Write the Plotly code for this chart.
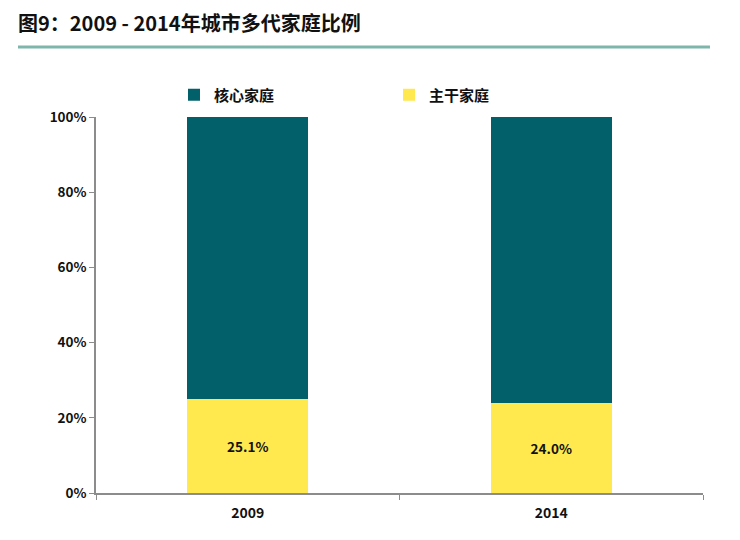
import plotly.graph_objects as go

YEARS = ["2009", "2014"]
NUCLEAR = [74.9, 76.0]   # 核心家庭
STEM = [25.1, 24.0]      # 主干家庭
Y_TICKS = [0, 20, 40, 60, 80, 100]

TEAL = "#02606B"
YELLOW = "#FFE94F"
FONT = "Noto Sans CJK SC"

fig = go.Figure()

fig.add_trace(
    go.Bar(
        x=YEARS,
        y=STEM,
        name="<b>主干家庭</b>",
        marker=dict(color=YELLOW, line=dict(width=0)),
        text=[f"<b>{v:.1f}%</b>" for v in STEM],
        textposition="inside",
        insidetextanchor="middle",
        textfont=dict(family=FONT, size=13.5, color="#111111"),
    )
)
fig.add_trace(
    go.Bar(
        x=YEARS,
        y=NUCLEAR,
        name="<b>核心家庭</b>",
        marker=dict(color=TEAL, line=dict(width=0)),
        hoverinfo="y+name",
    )
)

# Title underline
fig.add_shape(
    type="line", xref="paper", yref="paper",
    x0=-0.1285, x1=1.0115, y0=1.186, y1=1.186,
    line=dict(color="#7FB6AC", width=3),
)

# the page body has an 8px margin, so everything is laid out 8px up/left
fig.update_layout(
    barmode="stack",
    bargap=0.6,
    width=740,
    height=540,
    paper_bgcolor="white",
    plot_bgcolor="white",
    margin=dict(l=88, r=45, t=109, b=55),
    font=dict(family=FONT, size=12, color="#111111"),
    title=dict(
        text="<b>图9：2009 - 2014年城市多代家庭比例</b>",
        xref="container", x=0.0135, xanchor="left",
        yref="container", y=0.970, yanchor="middle",
        font=dict(family=FONT, size=20, color="#111111"),
    ),
    showlegend=True,
    legend=dict(
        orientation="h",
        traceorder="reversed",
        x=0.1285, xanchor="left",
        y=1.0585, yanchor="middle",
        entrywidth=170,
        font=dict(family=FONT, size=15, color="#111111"),
        itemsizing="constant",
    ),
    xaxis=dict(
        showline=True, linecolor="#8C8C8C", linewidth=1.5,
        ticks="outside", tickson="boundaries", ticklen=5, tickcolor="#8C8C8C",
        tickfont=dict(family=FONT, size=14, color="#111111"),
        tickprefix="<b>", ticksuffix="</b>",
        ticklabelstandoff=6,
        showgrid=False,
    ),
    yaxis=dict(
        range=[0, 100],
        tickvals=Y_TICKS,
        ticktext=[f"<b>{v}%</b>" for v in Y_TICKS],
        showline=True, linecolor="#8C8C8C", linewidth=1.5,
        ticks="outside", ticklen=5, tickcolor="#8C8C8C",
        tickfont=dict(family=FONT, size=13.5, color="#111111"),
        showgrid=False, zeroline=False,
    ),
)

fig.write_html("out.html")
